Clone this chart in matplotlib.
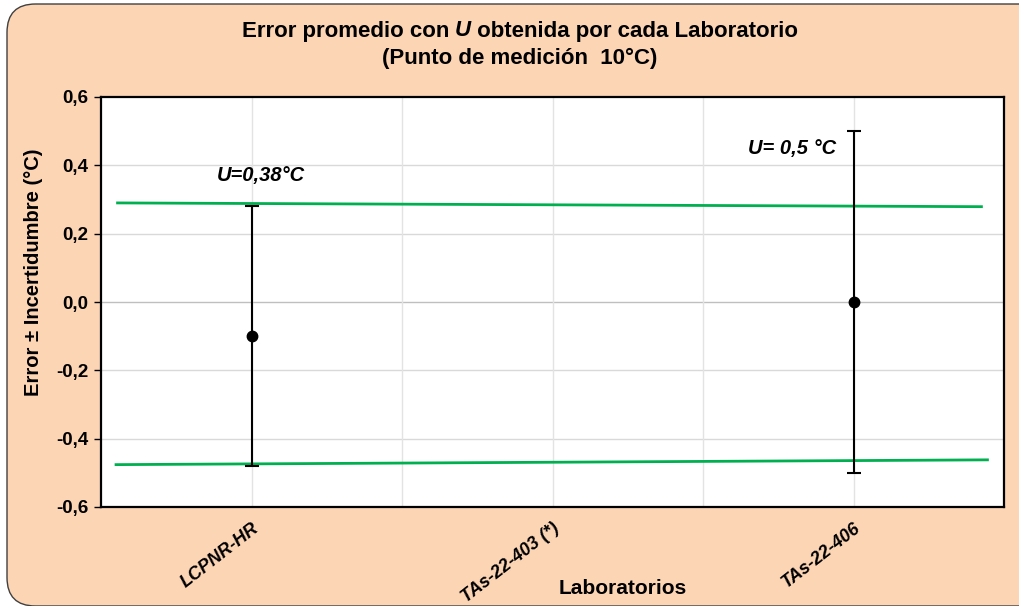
import matplotlib.pyplot as plt
from matplotlib.patches import FancyBboxPatch
from matplotlib.ticker import FuncFormatter

plt.rcParams['font.family'] = ['Liberation Sans', 'DejaVu Sans']

# Datos
laboratorios = ["LCPNR-HR", "TAs-22-403 (*)", "TAs-22-406"]
pos_lab = [1, 3, 5]
lab_con_datos = [1, 5]
errores = [-0.10, 0.00]
incertidumbres = [0.38, 0.50]
etiquetas_U = ["U=0,38°C", "U= 0,5 °C"]
pos_etiquetas_x = [1.06, 4.59]
pos_etiquetas_y = [0.37, 0.45]

# Limites (lineas verdes)
lim_sup_x = [0.11, 5.85]
lim_sup_y = [0.290, 0.279]
lim_inf_x = [0.10, 5.89]
lim_inf_y = [-0.476, -0.462]

fondo = '#FCD5B5'
verde = '#00B050'

fig = plt.figure(figsize=(10.19, 6.06), dpi=100)
fig.patch.set_facecolor('white')
caja = FancyBboxPatch((7 / 1019, 0.0), 1.2, 1 - 4 / 606,
                      boxstyle="round,pad=0,rounding_size=0.028",
                      transform=fig.transFigure, facecolor=fondo,
                      edgecolor='#404040', linewidth=1.0, mutation_aspect=1.68,
                      zorder=-10)
fig.patches.append(caja)

ax = fig.add_axes([101 / 1019, 1 - 507 / 606, 903 / 1019, 410 / 606])
ax.set_facecolor('white')
ax.set_xlim(0, 6)
ax.set_ylim(-0.6, 0.6)

# Rejilla
for y in [-0.4, -0.2, 0.2, 0.4]:
    ax.axhline(y, color='#D9D9D9', lw=1, zorder=0)
ax.axhline(0, color='#BFBFBF', lw=1, zorder=0)
for x in range(1, 6):
    ax.axvline(x, color='#E3E3E3', lw=1, zorder=0)

ax.plot(lim_sup_x, lim_sup_y, color=verde, lw=2, zorder=2)
ax.plot(lim_inf_x, lim_inf_y, color=verde, lw=2, zorder=2)

ax.errorbar(lab_con_datos, errores, yerr=incertidumbres, fmt='o', color='black',
            ecolor='black', markersize=7.5, elinewidth=1.5, capsize=5,
            capthick=1.5, zorder=3)

for tx, ty, t in zip(pos_etiquetas_x, pos_etiquetas_y, etiquetas_U):
    ax.text(tx, ty, t, ha='center', va='center', fontsize=14.5,
            fontweight='bold', style='italic')

ax.set_yticks([-0.6, -0.4, -0.2, 0.0, 0.2, 0.4, 0.6])
ax.yaxis.set_major_formatter(FuncFormatter(lambda v, p: f"{v:.1f}".replace('.', ',').replace('−', '-')))
ax.tick_params(axis='y', labelsize=13.5, length=5, width=1, direction='out', pad=4)
for lbl in ax.get_yticklabels():
    lbl.set_fontweight('bold')

ax.set_xticks(pos_lab)
ax.set_xticklabels(laboratorios, rotation=38, ha='right', rotation_mode='anchor',
                   fontsize=13, fontweight='bold', style='italic')
ax.tick_params(axis='x', length=0, pad=9)

for s in ax.spines.values():
    s.set_linewidth(1.6)
    s.set_color('black')

ax.set_ylabel("Error ± Incertidumbre (°C)", fontsize=14.5, fontweight='bold')
ax.yaxis.set_label_coords(-0.064, 0.573)
fig.text(623 / 1019, 1 - 588 / 606, "Laboratorios", ha='center', va='center',
         fontsize=15, fontweight='bold')

# Titulo con U en cursiva
fig.canvas.draw()
r = fig.canvas.get_renderer()
y1 = 1 - 31 / 606
partes = [("Error promedio con ", 'normal'), ("U", 'italic'), (" obtenida por cada Laboratorio", 'normal')]
textos = [fig.text(0, y1, p, fontsize=16, fontweight='bold', style=st, va='center') for p, st in partes]
anchos = [t.get_window_extent(r).width for t in textos]
x0 = 520 - sum(anchos) / 2
for t, w in zip(textos, anchos):
    t.set_x(x0 / 1019)
    x0 += w
fig.text(520 / 1019, 1 - 58 / 606, "(Punto de medición  10°C)", ha='center', va='center',
         fontsize=16, fontweight='bold')

fig.savefig("out.png", dpi=100, facecolor=fig.get_facecolor())
